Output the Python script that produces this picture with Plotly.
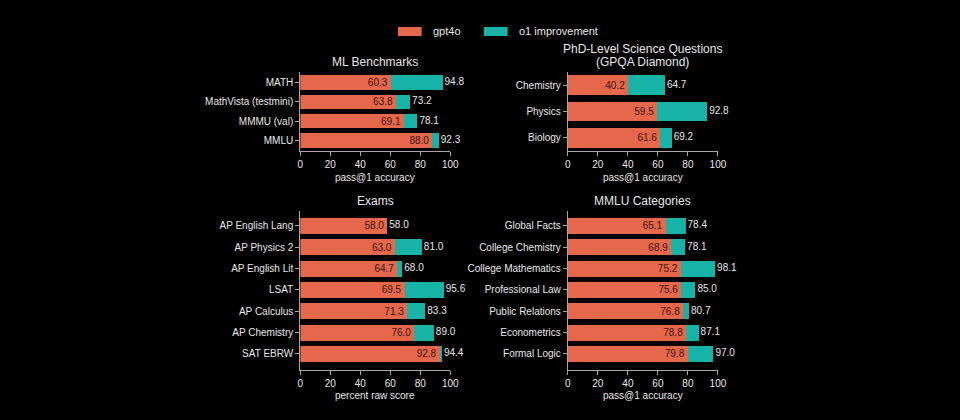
import plotly.graph_objects as go

# --- data -------------------------------------------------------------------
ml_cats = ["MATH", "MathVista (testmini)", "MMMU (val)", "MMLU"]
ml_gpt4o = [60.3, 63.8, 69.1, 88.0]
ml_o1 = [94.8, 73.2, 78.1, 92.3]

gpqa_cats = ["Chemistry", "Physics", "Biology"]
gpqa_gpt4o = [40.2, 59.5, 61.6]
gpqa_o1 = [64.7, 92.8, 69.2]

exam_cats = ["AP English Lang", "AP Physics 2", "AP English Lit", "LSAT",
             "AP Calculus", "AP Chemistry", "SAT EBRW"]
exam_gpt4o = [58.0, 63.0, 64.7, 69.5, 71.3, 76.0, 92.8]
exam_o1 = [58.0, 81.0, 68.0, 95.6, 83.3, 89.0, 94.4]

mmlu_cats = ["Global Facts", "College Chemistry", "College Mathematics",
             "Professional Law", "Public Relations", "Econometrics", "Formal Logic"]
mmlu_gpt4o = [65.1, 68.9, 75.2, 75.6, 76.8, 78.8, 79.8]
mmlu_o1 = [78.4, 78.1, 98.1, 85.0, 80.7, 87.1, 97.0]

x_ticks = [0, 20, 40, 60, 80, 100]

# --- style ------------------------------------------------------------------
ORANGE = "#E5674C"
TEAL = "#17B3A7"
TXT = "#E8E8E8"
AXIS = "#A8A8A8"
FONT = "Liberation Sans"

W, H = 960, 420

def px_x(p):
    return p / W

def px_y(p):
    return 1 - p / H

panels = [
    # cats, gpt4o, o1, xaxis, yaxis, x px domain, y px domain, pad top, pad bottom
    (ml_cats, ml_gpt4o, ml_o1, "x", "y", (301, 453), (72, 151), 0.55, 0.55),
    (gpqa_cats, gpqa_gpt4o, gpqa_o1, "x2", "y2", (572, 724), (72, 151), 0.5, 0.5),
    (exam_cats, exam_gpt4o, exam_o1, "x3", "y3", (301, 453), (211, 370), 0.7, 0.75),
    (mmlu_cats, mmlu_gpt4o, mmlu_o1, "x4", "y4", (572, 724), (211, 370), 0.7, 0.75),
]

fig = go.Figure()
layout_axes = {}

for i, (cats, base, total, xa, ya, xd, yd, pt, pb) in enumerate(panels):
    improvement = [round(t - b, 1) for b, t in zip(base, total)]
    fig.add_trace(go.Bar(
        y=cats, x=base, orientation="h", xaxis=xa, yaxis=ya,
        marker=dict(color=ORANGE, line=dict(width=0)), width=0.74,
        text=[f"{v:.1f}" for v in base], textposition="inside",
        insidetextanchor="end",
        textfont=dict(color="#3a140b", size=10, family=FONT),
        showlegend=False, hoverinfo="skip",
    ))
    fig.add_trace(go.Bar(
        y=cats, x=improvement, orientation="h", xaxis=xa, yaxis=ya,
        marker=dict(color=TEAL, line=dict(width=0)), width=0.74,
        showlegend=False, hoverinfo="skip",
    ))
    # total labels just right of the stacked bar
    fig.add_trace(go.Scatter(
        y=cats, x=total, mode="text", xaxis=xa, yaxis=ya,
        text=["\u2009" + f"{v:.1f}" for v in total], textposition="middle right",
        textfont=dict(color=TXT, size=10, family=FONT),
        cliponaxis=False, showlegend=False, hoverinfo="skip",
    ))

    n = len(cats)
    sfx = "" if i == 0 else str(i + 1)
    layout_axes["xaxis" + sfx] = dict(
        domain=[px_x(xd[0]), px_x(xd[1])], range=[0, 100], anchor=ya,
        tickvals=x_ticks, ticks="outside", ticklen=4, tickcolor=AXIS,
        showline=True, linecolor=AXIS, linewidth=1, showgrid=False,
        zeroline=False, tickfont=dict(size=10, color=TXT),
    )
    layout_axes["yaxis" + sfx] = dict(
        domain=[px_y(yd[1]), px_y(yd[0])], anchor=xa,
        categoryorder="array", categoryarray=cats,
        range=[n - 1 + pb, -pt], ticks="outside", ticklen=4, tickcolor=AXIS,
        showline=True, linecolor=AXIS, linewidth=1, showgrid=False,
        zeroline=False, tickfont=dict(size=10, color=TXT),
    )

annotations = [
    dict(text="ML Benchmarks", x=px_x(377), y=px_y(62)),
    dict(text="PhD-Level Science Questions", x=px_x(648), y=px_y(48.5)),
    dict(text="(GPQA Diamond)", x=px_x(648), y=px_y(62)),
    dict(text="Exams", x=px_x(377), y=px_y(201)),
    dict(text="MMLU Categories", x=px_x(648), y=px_y(201)),
]
for a in annotations:
    a.update(xref="paper", yref="paper", showarrow=False, xanchor="center",
             yanchor="middle", font=dict(size=12, color=TXT, family=FONT))

axis_titles = [
    ("pass@1 accuracy", 377, 177),
    ("pass@1 accuracy", 648, 177),
    ("percent raw score", 377, 395),
    ("pass@1 accuracy", 648, 395),
]
for t, x, y in axis_titles:
    annotations.append(dict(text=t, x=px_x(x), y=px_y(y), xref="paper", yref="paper",
                            showarrow=False, xanchor="center", yanchor="middle",
                            font=dict(size=10, color=TXT, family=FONT)))

# legend drawn by hand (wide swatches)
legend_items = [("gpt4o", ORANGE, 400), ("o1 improvement", TEAL, 487)]
shapes = []
for name, col, x0 in legend_items:
    shapes.append(dict(type="rect", xref="paper", yref="paper",
                       x0=px_x(x0), x1=px_x(x0 + 24), y0=px_y(36), y1=px_y(27),
                       fillcolor=col, line=dict(width=0)))
    annotations.append(dict(text=name, x=px_x(x0 + 33), y=px_y(31.5), xref="paper",
                            yref="paper", showarrow=False, xanchor="left",
                            yanchor="middle", font=dict(size=11, color=TXT, family=FONT)))

fig.update_layout(
    width=W, height=H, margin=dict(l=0, r=0, t=0, b=0),
    paper_bgcolor="#000000", plot_bgcolor="#000000",
    barmode="stack", showlegend=False,
    font=dict(family=FONT, color=TXT, size=10),
    uniformtext=dict(minsize=10, mode="show"),
    annotations=annotations, shapes=shapes,
    **layout_axes,
)

# page body has a default margin; drop it so the black figure fills the window
fig.write_html("out.html", config={"displayModeBar": False},
               post_script="document.body.style.margin='0';")
